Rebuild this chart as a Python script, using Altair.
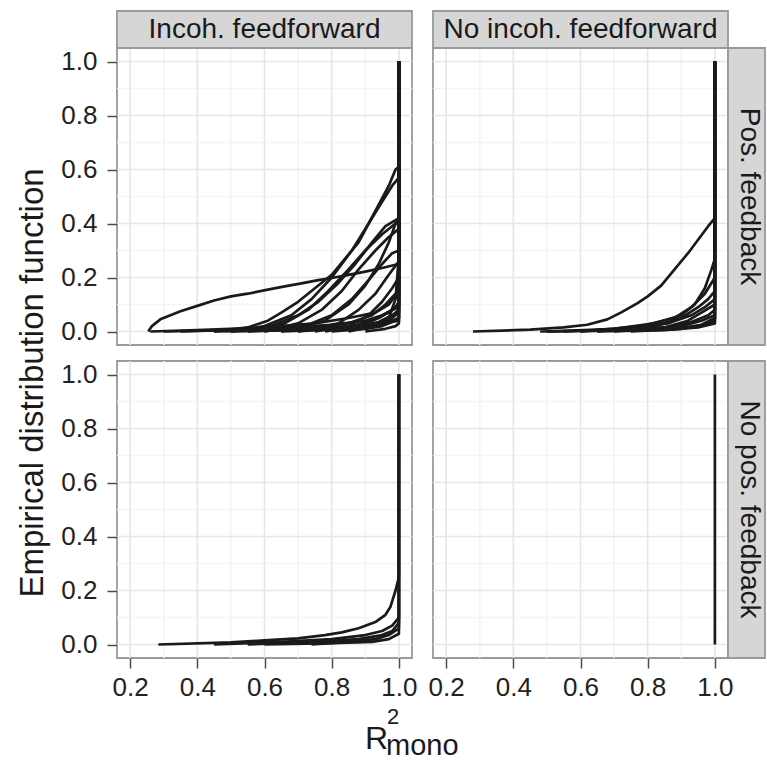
import altair as alt
import pandas as pd

# ---------------- labels / ticks ----------------
COL_LABELS = ["Incoh. feedforward", "No incoh. feedforward"]
ROW_LABELS = ["Pos. feedback", "No pos. feedback"]
Y_TITLE = "Empirical distribution function"
X_TITLE_PARTS = ["R", "2", "mono"]
X_TICKS = [0.2, 0.4, 0.6, 0.8, 1.0]
Y_TICKS = [0.0, 0.2, 0.4, 0.6, 0.8, 1.0]
X_MINOR = [0.3, 0.5, 0.7, 0.9]
Y_MINOR = [0.1, 0.3, 0.5, 0.7, 0.9]
X_DOMAIN = [0.161, 1.039]
Y_DOMAIN = [-0.05, 1.05]

# ---------------- ECDF curves (x = R^2_mono, y = ECDF) ----------------
# Incoh. feedforward / Pos. feedback
TL_CURVES = [
    ([0.254, 0.265, 0.29, 0.32, 0.35, 0.40, 0.45, 0.50, 0.55, 0.61, 0.66, 0.71, 0.76, 0.80, 0.85, 0.90, 0.95, 0.99, 1.0, 1.0],
     [0.0, 0.02, 0.045, 0.06, 0.075, 0.095, 0.115, 0.13, 0.14, 0.155, 0.167, 0.178, 0.19, 0.198, 0.21, 0.222, 0.235, 0.247, 0.25, 1.0]),
    ([0.26, 0.4, 0.6, 0.75, 0.85, 0.93, 0.97, 1.0, 1.0],
     [0.0, 0.005, 0.015, 0.03, 0.05, 0.07, 0.1, 0.15, 1.0]),
    ([0.45, 0.55, 0.61, 0.65, 0.70, 0.75, 0.80, 0.84, 0.88, 0.91, 0.94, 0.97, 0.99, 1.0, 1.0],
     [0.0, 0.015, 0.04, 0.07, 0.11, 0.16, 0.21, 0.27, 0.33, 0.40, 0.47, 0.54, 0.60, 0.61, 1.0]),
    ([0.5, 0.6, 0.68, 0.74, 0.80, 0.86, 0.91, 0.95, 0.98, 1.0, 1.0],
     [0.0, 0.02, 0.06, 0.12, 0.20, 0.30, 0.40, 0.48, 0.54, 0.57, 1.0]),
    ([0.5, 0.62, 0.70, 0.76, 0.82, 0.87, 0.92, 0.96, 1.0, 1.0],
     [0.0, 0.02, 0.06, 0.11, 0.18, 0.25, 0.33, 0.39, 0.42, 1.0]),
    ([0.55, 0.66, 0.73, 0.79, 0.85, 0.90, 0.95, 0.99, 1.0, 1.0],
     [0.0, 0.03, 0.08, 0.15, 0.23, 0.30, 0.36, 0.40, 0.40, 1.0]),
    ([0.6, 0.70, 0.77, 0.83, 0.88, 0.93, 0.97, 1.0, 1.0],
     [0.0, 0.03, 0.08, 0.15, 0.23, 0.30, 0.35, 0.38, 1.0]),
    ([0.65, 0.78, 0.85, 0.90, 0.94, 0.97, 0.99, 1.0, 1.0],
     [0.0, 0.04, 0.10, 0.17, 0.25, 0.33, 0.40, 0.42, 1.0]),
    ([0.6, 0.72, 0.80, 0.86, 0.91, 0.95, 0.98, 1.0, 1.0],
     [0.0, 0.02, 0.06, 0.12, 0.19, 0.25, 0.29, 0.30, 1.0]),
    ([0.7, 0.82, 0.88, 0.93, 0.97, 1.0, 1.0],
     [0.0, 0.03, 0.08, 0.14, 0.21, 0.26, 1.0]),
    ([0.75, 0.85, 0.91, 0.95, 0.98, 1.0, 1.0],
     [0.0, 0.02, 0.06, 0.11, 0.16, 0.20, 1.0]),
    ([0.5, 0.70, 0.85, 0.92, 0.96, 0.99, 1.0, 1.0],
     [0.0, 0.01, 0.03, 0.06, 0.10, 0.14, 0.15, 1.0]),
    ([0.35, 0.60, 0.80, 0.90, 0.95, 0.98, 1.0, 1.0],
     [0.0, 0.01, 0.025, 0.04, 0.06, 0.08, 0.10, 1.0]),
    ([0.55, 0.75, 0.88, 0.94, 0.98, 1.0, 1.0],
     [0.0, 0.01, 0.02, 0.035, 0.06, 0.08, 1.0]),
    ([0.65, 0.85, 0.93, 0.97, 0.99, 1.0, 1.0],
     [0.0, 0.01, 0.02, 0.04, 0.06, 0.07, 1.0]),
    ([0.8, 0.90, 0.95, 0.98, 1.0, 1.0],
     [0.0, 0.01, 0.02, 0.035, 0.05, 1.0]),
    ([0.45, 0.70, 0.88, 0.96, 0.99, 1.0, 1.0],
     [0.0, 0.005, 0.015, 0.03, 0.045, 0.05, 1.0]),
    ([0.9, 0.96, 0.99, 1.0, 1.0],
     [0.0, 0.01, 0.02, 0.03, 1.0]),
    ([0.3, 0.50, 0.70, 0.85, 0.95, 1.0, 1.0],
     [0.0, 0.005, 0.01, 0.02, 0.03, 0.04, 1.0]),
    ([0.85, 0.93, 0.97, 0.99, 1.0, 1.0],
     [0.0, 0.02, 0.05, 0.12, 0.28, 1.0]),
    ([0.7, 0.84, 0.92, 0.97, 0.99, 1.0, 1.0],
     [0.0, 0.015, 0.04, 0.07, 0.09, 0.11, 1.0]),
    ([0.78, 0.88, 0.94, 0.98, 1.0, 1.0],
     [0.0, 0.02, 0.05, 0.08, 0.09, 1.0]),
]

# No incoh. feedforward / Pos. feedback
TR_CURVES = [
    ([0.28, 0.45, 0.55, 0.62, 0.68, 0.72, 0.77, 0.80, 0.84, 0.88, 0.92, 0.95, 0.98, 1.0, 1.0],
     [0.0, 0.007, 0.015, 0.025, 0.045, 0.07, 0.105, 0.13, 0.17, 0.23, 0.29, 0.34, 0.39, 0.42, 1.0]),
    ([0.5, 0.70, 0.82, 0.90, 0.94, 0.97, 0.99, 1.0, 1.0],
     [0.0, 0.01, 0.03, 0.06, 0.10, 0.16, 0.23, 0.27, 1.0]),
    ([0.6, 0.78, 0.88, 0.93, 0.97, 1.0, 1.0],
     [0.0, 0.02, 0.05, 0.09, 0.14, 0.20, 1.0]),
    ([0.65, 0.82, 0.90, 0.95, 0.98, 1.0, 1.0],
     [0.0, 0.02, 0.05, 0.09, 0.12, 0.15, 1.0]),
    ([0.55, 0.75, 0.86, 0.93, 0.97, 1.0, 1.0],
     [0.0, 0.01, 0.03, 0.06, 0.09, 0.12, 1.0]),
    ([0.7, 0.85, 0.92, 0.96, 1.0, 1.0],
     [0.0, 0.015, 0.04, 0.07, 0.10, 1.0]),
    ([0.5, 0.72, 0.85, 0.93, 0.98, 1.0, 1.0],
     [0.0, 0.005, 0.015, 0.035, 0.06, 0.08, 1.0]),
    ([0.6, 0.80, 0.90, 0.96, 1.0, 1.0],
     [0.0, 0.01, 0.02, 0.04, 0.06, 1.0]),
    ([0.48, 0.70, 0.88, 0.96, 1.0, 1.0],
     [0.0, 0.005, 0.01, 0.025, 0.05, 1.0]),
    ([0.75, 0.90, 0.97, 1.0, 1.0],
     [0.0, 0.01, 0.025, 0.04, 1.0]),
    ([0.65, 0.85, 0.95, 1.0, 1.0],
     [0.0, 0.005, 0.015, 0.03, 1.0]),
]

# Incoh. feedforward / No pos. feedback
BL_CURVES = [
    ([0.284, 0.50, 0.60, 0.70, 0.78, 0.83, 0.88, 0.93, 0.96, 0.975, 0.99, 1.0, 1.0],
     [0.0, 0.008, 0.015, 0.023, 0.035, 0.045, 0.06, 0.083, 0.11, 0.14, 0.20, 0.25, 1.0]),
    ([0.45, 0.65, 0.80, 0.90, 0.95, 0.98, 1.0, 1.0],
     [0.0, 0.01, 0.02, 0.035, 0.05, 0.07, 0.10, 1.0]),
    ([0.55, 0.75, 0.88, 0.95, 0.98, 1.0, 1.0],
     [0.0, 0.01, 0.02, 0.035, 0.05, 0.08, 1.0]),
    ([0.74, 0.85, 0.93, 0.97, 1.0, 1.0],
     [0.0, 0.01, 0.02, 0.035, 0.06, 1.0]),
    ([0.6, 0.80, 0.92, 0.97, 1.0, 1.0],
     [0.0, 0.005, 0.01, 0.02, 0.04, 1.0]),
]

# No incoh. feedforward / No pos. feedback
BR_CURVES = [
    ([1.0, 1.0], [0.0, 1.0]),
]

# ---------------- styling ----------------
W, H = 295, 297
STRIP_FILL = "#d6d6d6"
BORDER = "#9a9a9a"
MAJOR = "#e6e6e6"
MINOR = "#f4f4f4"
INK = "#1a1a1a"
FONT = "Liberation Sans"

xs = alt.Scale(domain=X_DOMAIN, nice=False, zero=False)
ys = alt.Scale(domain=Y_DOMAIN, nice=False, zero=False)


def curves_df(curves):
    rows = []
    for cid, (xv, yv) in enumerate(curves):
        for i, (a, b) in enumerate(zip(xv, yv)):
            rows.append({"curve": cid, "seq": i, "x": a, "y": b})
    return pd.DataFrame(rows)


def make_axis_x(show):
    if not show:
        return None
    return alt.Axis(values=X_TICKS, format=".1f", grid=False, domain=False,
                    ticks=True, tickSize=10, tickWidth=1.5, tickColor="#4d4d4d",
                    labels=True, labelFontSize=26, labelColor="#222222",
                    labelPadding=6, labelFont=FONT, title=None)


def make_axis_y(show):
    if not show:
        return None
    return alt.Axis(values=Y_TICKS, format=".1f", grid=False, domain=False,
                    ticks=True, tickSize=10, tickWidth=1.5, tickColor="#4d4d4d",
                    labels=True, labelFontSize=26, labelColor="#222222",
                    labelPadding=10, labelFont=FONT, title=None)


def panel(curves, col_label=None, row_label=None, show_x=False, show_y=False, extra=None):
    ax = make_axis_x(show_x)
    ay = make_axis_y(show_y)
    layers = [
        alt.Chart(pd.DataFrame({"v": X_MINOR})).mark_rule(color=MINOR, strokeWidth=1.6)
        .encode(x=alt.X("v:Q", scale=xs, axis=ax)),
        alt.Chart(pd.DataFrame({"v": Y_MINOR})).mark_rule(color=MINOR, strokeWidth=1.6)
        .encode(y=alt.Y("v:Q", scale=ys, axis=ay)),
        alt.Chart(pd.DataFrame({"v": X_TICKS})).mark_rule(color=MAJOR, strokeWidth=1.6)
        .encode(x=alt.X("v:Q", scale=xs, axis=ax)),
        alt.Chart(pd.DataFrame({"v": Y_TICKS})).mark_rule(color=MAJOR, strokeWidth=1.6)
        .encode(y=alt.Y("v:Q", scale=ys, axis=ay)),
        alt.Chart(curves_df(curves)).mark_line(color=INK, strokeWidth=2.7, strokeJoin="round")
        .encode(x=alt.X("x:Q", scale=xs, axis=ax),
                y=alt.Y("y:Q", scale=ys, axis=ay),
                detail="curve:N", order="seq:Q"),
    ]
    if col_label is not None:
        lab = pd.DataFrame({"t": [col_label]})
        layers.append(alt.Chart(lab).mark_rect(fill=STRIP_FILL, stroke=BORDER, strokeWidth=1.8)
                      .encode(x=alt.value(0), x2=alt.value(W), y=alt.value(-37), y2=alt.value(0)))
        layers.append(alt.Chart(lab).mark_text(fontSize=28, font=FONT, color=INK,
                                               align="center", baseline="middle")
                      .encode(x=alt.value(W / 2), y=alt.value(-18), text="t:N"))
    if row_label is not None:
        lab = pd.DataFrame({"t": [row_label]})
        layers.append(alt.Chart(lab).mark_rect(fill=STRIP_FILL, stroke=BORDER, strokeWidth=1.8)
                      .encode(x=alt.value(W), x2=alt.value(W + 37), y=alt.value(0), y2=alt.value(H)))
        layers.append(alt.Chart(lab).mark_text(fontSize=28, font=FONT, color=INK, angle=90,
                                               align="center", baseline="middle")
                      .encode(x=alt.value(W + 21), y=alt.value(H / 2), text="t:N"))
    if extra:
        layers.extend(extra)
    return alt.layer(*layers).properties(width=W, height=H)


y_title = alt.Chart(pd.DataFrame({"t": [Y_TITLE]})).mark_text(
    fontSize=33, font=FONT, color=INK, angle=270, align="center", baseline="middle"
).encode(x=alt.value(-84), y=alt.value(335), text="t:N")

xt = pd.DataFrame({"t": X_TITLE_PARTS})
x_title = [
    alt.Chart(xt.iloc[[0]]).mark_text(fontSize=32, font=FONT, color=INK, align="left",
                                      baseline="alphabetic")
    .encode(x=alt.value(248), y=alt.value(388), text="t:N"),
    alt.Chart(xt.iloc[[1]]).mark_text(fontSize=22, font=FONT, color=INK, align="left",
                                      baseline="alphabetic")
    .encode(x=alt.value(270), y=alt.value(363), text="t:N"),
    alt.Chart(xt.iloc[[2]]).mark_text(fontSize=29, font=FONT, color=INK, align="left",
                                      baseline="alphabetic")
    .encode(x=alt.value(269), y=alt.value(394), text="t:N"),
]

tl = panel(TL_CURVES, col_label=COL_LABELS[0], show_y=True, extra=[y_title])
tr = panel(TR_CURVES, col_label=COL_LABELS[1], row_label=ROW_LABELS[0])
bl = panel(BL_CURVES, show_x=True, show_y=True, extra=x_title)
br = panel(BR_CURVES, row_label=ROW_LABELS[1], show_x=True)

chart = alt.concat(
    tl, tr, bl, br, columns=2, spacing={"row": 16, "column": 21}, bounds="flush"
).properties(
    padding={"left": 16, "top": 9, "right": 0, "bottom": 0},
    background="white",
).configure(font=FONT).configure_view(stroke=BORDER, strokeWidth=1.8)

chart.save("out.html", embed_options={"renderer": "svg", "actions": False})
